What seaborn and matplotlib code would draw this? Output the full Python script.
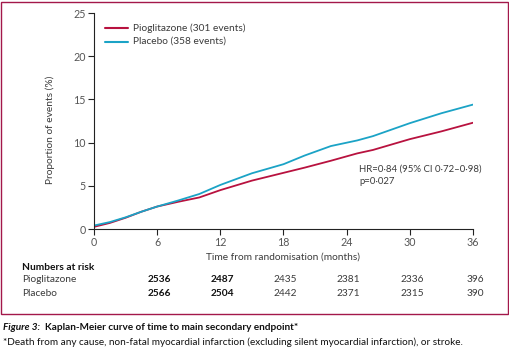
import matplotlib
matplotlib.use("Agg")
import matplotlib.pyplot as plt
import numpy as np
import pandas as pd
import seaborn as sns
from matplotlib.patches import Rectangle

# Cumulative event curves
MONTHS = [0, 1.5, 3, 4.5, 6, 8, 10, 12, 15, 18, 20, 22.5, 25, 26.5, 30, 33, 36]
PIOGLITAZONE = [0.25, 0.7, 1.3, 2.0, 2.6, 3.15, 3.65, 4.5, 5.6, 6.5, 7.1, 7.9, 8.75, 9.15, 10.4, 11.3, 12.3]
PLACEBO = [0.4, 0.8, 1.35, 2.0, 2.6, 3.3, 4.05, 5.1, 6.45, 7.5, 8.5, 9.6, 10.25, 10.75, 12.25, 13.4, 14.4]

SERIES_LABELS = ["Pioglitazone (301 events)", "Placebo (358 events)"]
COLORS = ["#b8123f", "#1ba3c6"]

X_TICKS = [0, 6, 12, 18, 24, 30, 36]
Y_TICKS = [0, 5, 10, 15, 20, 25]

RISK_MONTHS = [6, 12, 18, 24, 30, 36]
RISK_PIO = [2536, 2487, 2435, 2381, 2336, 396]
RISK_PLA = [2566, 2504, 2442, 2371, 2315, 390]

FOOTNOTE = ("*Death from any cause, non-fatal myocardial infarction (excluding silent "
            "myocardial infarction), or stroke.")

FRAME = "#a3184a"
TXT = "#3a3a3a"
W, H = 510, 351


def _data() -> pd.DataFrame:
    a = pd.DataFrame({"month": MONTHS, "pct": PIOGLITAZONE, "group": SERIES_LABELS[0]})
    b = pd.DataFrame({"month": MONTHS, "pct": PLACEBO, "group": SERIES_LABELS[1]})
    return pd.concat([a, b], ignore_index=True)


def _fit_size(fig, text, target_px, **kw) -> float:
    # pick a font size so the text spans roughly target_px pixels
    r = fig.canvas.get_renderer()
    t = fig.text(0, 0, text, fontsize=10, **kw)
    w = t.get_window_extent(renderer=r).width
    t.remove()
    return 10 * target_px / w


def main() -> None:
    sns.set_theme(style="white")
    plt.rcParams["font.family"] = ["Lato", "DejaVu Sans"]

    fig = plt.figure(figsize=(5.10, 3.51), dpi=100)
    fs = _fit_size(fig, FOOTNOTE, 461)
    fs_leg = _fit_size(fig, SERIES_LABELS[0], 105) * 1.07
    fs_hr = _fit_size(fig, "HR=0·84 (95% CI 0·72–0·98)", 118) * 1.04

    ax = fig.add_axes([94 / W, 1 - 229 / H, (473 - 94) / W, (229 - 13) / H])

    df = _data()
    sns.lineplot(data=df, x="month", y="pct", hue="group", palette=COLORS,
                 linewidth=1.3, ax=ax, legend=False)

    ax.set_xlim(0, 36)
    ax.set_ylim(0, 25)
    ax.set_xticks(X_TICKS)
    ax.set_yticks(Y_TICKS)
    ax.tick_params(axis="both", direction="out", length=4, width=0.8, color="#222222",
                   labelsize=fs_leg * 1.05, labelcolor="#555555", pad=2, left=True, bottom=True)
    for side in ["top", "right"]:
        ax.spines[side].set_visible(False)
    for side in ["left", "bottom"]:
        ax.spines[side].set_color("#222222")
        ax.spines[side].set_linewidth(0.8)
    ax.set_xlabel("")
    ax.set_ylabel("")
    ax.patch.set_alpha(0)

    # legend
    for i, (lab, col) in enumerate(zip(SERIES_LABELS, COLORS)):
        y = 1 - (28 + 13.5 * i) / H
        fig.add_artist(plt.Line2D([105 / W, 128 / W], [y, y], color=col, lw=1.5))
        fig.text(133 / W, y, lab, fontsize=fs_leg, color=TXT, va="center", ha="left")

    fig.text(50 / W, 1 - 130 / H, "Proportion of events (%)", rotation=90,
             fontsize=fs_leg, color=TXT, ha="center", va="center")
    fig.text(283 / W, 1 - 257 / H, "Time from randomisation (months)",
             fontsize=fs_leg, color=TXT, ha="center", va="center")

    fig.text(359 / W, 1 - 169 / H, "HR=0·84 (95% CI 0·72–0·98)", fontsize=fs_hr,
             color=TXT, ha="left", va="center")
    fig.text(359 / W, 1 - 182 / H, "p=0·027", fontsize=fs_hr, color=TXT,
             ha="left", va="center")

    # numbers at risk table
    fig.text(22 / W, 1 - 267 / H, "Numbers at risk", fontsize=fs_leg, color="#111111",
             fontweight="bold", ha="left", va="center")
    for row_y, name, vals in [(280, "Pioglitazone", RISK_PIO), (293.5, "Placebo", RISK_PLA)]:
        fig.text(22 / W, 1 - row_y / H, name, fontsize=fs_leg, color=TXT, ha="left", va="center")
        for m, v in zip(RISK_MONTHS, vals):
            xf = (94 + (473 - 94) * m / 36) / W
            bold = m <= 12
            fig.text(xf + 2 / W, 1 - row_y / H, str(v), fontsize=fs_leg,
                     color="#111111" if bold else TXT,
                     fontweight="bold" if bold else "normal",
                     ha="center", va="center")

    fig.add_artist(Rectangle((1.5 / W, 1 - 314 / H), 506.5 / W, 312.5 / H,
                             transform=fig.transFigure, fill=False,
                             edgecolor=FRAME, linewidth=1.0))

    fig.text(3 / W, 1 - 327 / H, "Figure 3:", fontsize=fs, fontstyle="italic",
             fontweight="bold", color="#111111", ha="left", va="center")
    fig.text(45 / W, 1 - 327 / H, "Kaplan-Meier curve of time to main secondary endpoint*",
             fontsize=fs, fontweight="bold", color="#111111", ha="left", va="center")
    fig.text(3 / W, 1 - 342 / H, FOOTNOTE,
             fontsize=fs, color="#111111", ha="left", va="center")

    fig.savefig("out.png", dpi=100, facecolor="white")
    plt.close(fig)


if __name__ == "__main__":
    main()
